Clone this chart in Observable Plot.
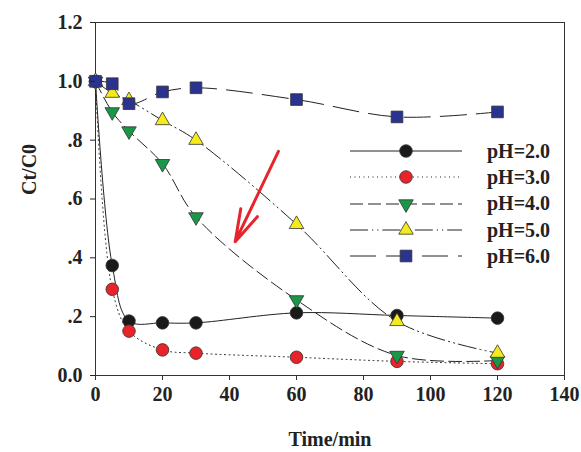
<!DOCTYPE html>
<html>
<head>
<meta charset="utf-8">
<script src="https://cdn.jsdelivr.net/npm/d3@7"></script>
<script src="https://cdn.jsdelivr.net/npm/@observablehq/plot@0.6"></script>
<style>
  body { margin: 0; background: #fff; }
  #wrap { position: relative; width: 581px; height: 452px; font-family: "Liberation Serif", "Times New Roman", serif; }
  #legend { position: absolute; left: 345px; top: 138px; }
  .row { display: flex; align-items: center; height: 26.3px; }
  .row span { font-weight: bold; font-size: 20px; color: #222; margin-left: 22px; }
</style>
</head>
<body>
<div id="wrap"></div>
<script>
const times = [0, 5, 10, 20, 30, 60, 90, 120];
const ph2 = [1.0, 0.374, 0.185, 0.179, 0.179, 0.213, 0.204, 0.195];
const ph3 = [1.0, 0.293, 0.151, 0.087, 0.076, 0.062, 0.048, 0.040];
const ph4 = [1.0, 0.896, 0.831, 0.720, 0.539, 0.257, 0.068, 0.051];
const ph5 = [1.0, 0.960, 0.935, 0.867, 0.800, 0.514, 0.184, 0.076];
const ph6 = [1.0, 0.992, 0.924, 0.964, 0.978, 0.938, 0.879, 0.896];
const seriesNames = ["pH=2.0", "pH=3.0", "pH=4.0", "pH=5.0", "pH=6.0"];
const seriesValues = [ph2, ph3, ph4, ph5, ph6];
const fills = ["#1a1a1a", "#e8232a", "#1a9648", "#f4ea1c", "#2a338e"];
const symbols = ["circle", "circle", "triangle", "triangle", "square"];
const rotations = [0, 0, 180, 0, 0];
const sizes = [6.3, 6.3, 5.4, 5.4, 6.6];
const dashes = ["none", "1,3.5", "13,5", "18,4,1.2,4,1.2,4", "26,10"];
const xTicks = [0, 20, 40, 60, 80, 100, 120, 140];
const yTicks = [0, 0.2, 0.4, 0.6, 0.8, 1.0, 1.2];
const yTickLabels = ["0.0", ".2", ".4", ".6", ".8", "1.0", "1.2"];
const arrowData = [{x1: 54.6, y1: 0.762, x2: 41.7, y2: 0.455}];

const rows = seriesNames.map((name, i) => times.map((t, j) => ({series: name, i, t, v: seriesValues[i][j]})));

const marks = [Plot.frame({stroke: "#333", strokeWidth: 1})];
rows.forEach((r, i) => {
  marks.push(Plot.line(r, {x: "t", y: "v", stroke: "#222", strokeWidth: 1, strokeDasharray: dashes[i], curve: "catmull-rom"}));
});
rows.forEach((r, i) => {
  marks.push(Plot.dot(r, {x: "t", y: "v", symbol: symbols[i], r: sizes[i], rotate: rotations[i], fill: fills[i], stroke: "#333", strokeWidth: 0.8}));
});
marks.push(Plot.arrow(arrowData, {x1: "x1", y1: "y1", x2: "x2", y2: "y2", stroke: "#e8232a", strokeWidth: 3, headLength: 36, headAngle: 32}));
marks.push(Plot.axisX({ticks: xTicks, tickSize: 5, tickPadding: 6, fontSize: 20, fontWeight: "bold", label: null, stroke: "#333"}));
marks.push(Plot.axisY({ticks: yTicks, tickSize: 5, tickPadding: 8, fontSize: 20, fontWeight: "bold", label: null, tickFormat: d => yTickLabels[yTicks.findIndex(v => Math.abs(v - d) < 1e-9)]}));
marks.push(Plot.text(["Time/min"], {frameAnchor: "bottom", dy: 70, fontSize: 20, fontWeight: "bold", fill: "#222"}));
marks.push(Plot.text(["Ct/C0"], {frameAnchor: "left", dx: -66, dy: -4, rotate: -90, fontSize: 20, fontWeight: "bold", fill: "#222"}));

const chart = Plot.plot({
  width: 581, height: 452,
  marginLeft: 95, marginRight: 17, marginTop: 22, marginBottom: 77,
  style: {fontFamily: "Liberation Serif, Times New Roman, serif", color: "#222", background: "#fff"},
  x: {domain: [0, 140]},
  y: {domain: [0, 1.2]},
  marks
});
const wrap = document.getElementById("wrap");
wrap.appendChild(chart);

const legend = d3.select(wrap).append("div").attr("id", "legend");
seriesNames.forEach((name, i) => {
  const row = legend.append("div").attr("class", "row");
  const svg = row.append("svg").attr("width", 120).attr("height", 26);
  svg.append("line").attr("x1", 5).attr("x2", 117).attr("y1", 13).attr("y2", 13)
    .attr("stroke", "#222").attr("stroke-width", 1).attr("stroke-dasharray", dashes[i]);
  const sym = {circle: d3.symbolCircle, triangle: d3.symbolTriangle, square: d3.symbolSquare}[symbols[i]];
  svg.append("path").attr("d", d3.symbol(sym, Math.PI * sizes[i] * sizes[i])())
    .attr("transform", `translate(61,13) rotate(${rotations[i]})`)
    .attr("fill", fills[i]).attr("stroke", "#333").attr("stroke-width", 0.8);
  row.append("span").text(name);
});
</script>
</body>
</html>
